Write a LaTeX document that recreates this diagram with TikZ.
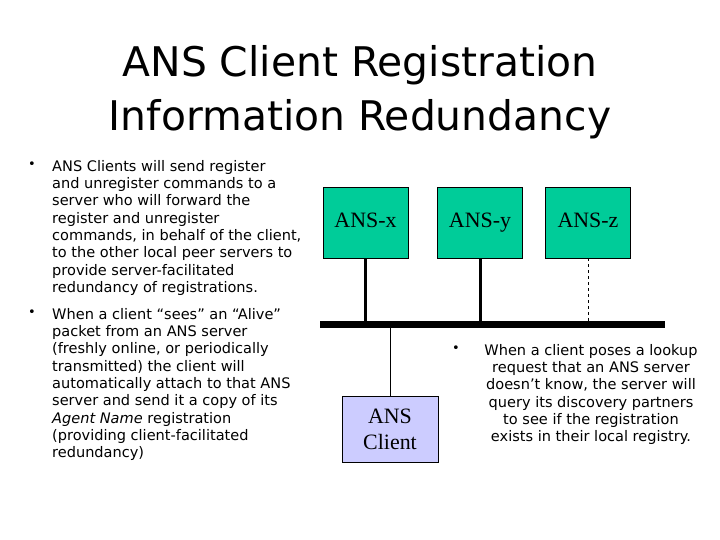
\documentclass[tikz,border=0pt]{standalone}
\usepackage{fontspec}
\setmainfont{DejaVu Sans}
\newfontfamily\serifbox{Liberation Serif}
\definecolor{boxg}{RGB}{0,204,153}
\definecolor{boxc}{RGB}{204,204,255}
\begin{document}
\begin{tikzpicture}[x=1bp,y=-1bp,
  srv/.style={draw=black,fill=boxg,minimum width=85bp,minimum height=71bp,inner sep=0pt,text height=15bp,text depth=4bp,font=\serifbox\fontsize{22}{24}\selectfont},
  cli/.style={draw=black,fill=boxc,minimum width=96bp,minimum height=66bp,inner sep=0pt,align=center,font=\serifbox\fontsize{22}{26}\selectfont},
  txt/.style={anchor=north west,align=left,inner sep=0pt,font=\fontsize{14.6}{17.4}\selectfont},
  bul/.style={anchor=north,inner sep=0pt,font=\fontsize{13}{17.4}\selectfont}]
\useasboundingbox (0,0) rectangle (720,540);
\node[font=\fontsize{41}{54}\selectfont,align=center,anchor=north] (title) at (360,42) {ANS Client Registration\\Information Redundancy};
\node[bul] (b1) at (32,162) {•};
\node[txt] (t1) at (52,160) {ANS Clients will send register\\and unregister commands to a\\server who will forward the\\register and unregister\\commands, in behalf of the client,\\to the other local peer servers to\\provide server-facilitated\\redundancy of registrations.};
\node[bul] (b2) at (32,310) {•};
\node[txt] (t2) at (52,308) {When a client “sees” an “Alive”\\packet from an ANS server\\(freshly online, or periodically\\transmitted) the client will\\automatically attach to that ANS\\server and send it a copy of its\\\textit{Agent Name} registration\\(providing client-facilitated\\redundancy)};
\node[bul] (b3) at (456,346) {•};
\node[txt,align=center,anchor=north] (t3) at (591,344) {When a client poses a lookup\\request that an ANS server\\doesn’t know, the server will\\query its discovery partners\\to see if the registration\\exists in their local registry.};
\node[srv] (x) at (365.5,222.5) {ANS-x};
\node[srv] (y) at (480,222.5) {ANS-y};
\node[srv] (z) at (588,222.5) {ANS-z};
\node[cli] (c) at (390,429) {ANS\\Client};
\coordinate (bl) at (320,324.5);
\coordinate (br) at (665,324.5);
\draw[line width=7bp] (bl) -- (br);
\draw[line width=3bp] (x.south) -- (x.south |- bl);
\draw[line width=3bp] (y.south) -- (y.south |- bl);
\draw[dashed,line width=0.6bp] (z.south) -- (z.south |- bl);
\draw[line width=0.8bp] (c.north) -- (c.north |- bl);
\end{tikzpicture}
\end{document}
